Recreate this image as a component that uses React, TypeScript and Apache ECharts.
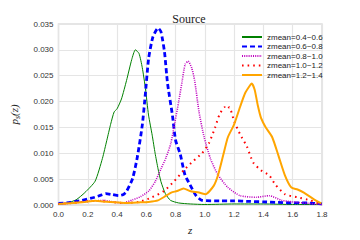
import React, { useEffect, useRef } from "react";
import * as echarts from "echarts";

const seriesNames = ["zmean=0.4~0.6", "zmean=0.6~0.8", "zmean=0.8~1.0", "zmean=1.0~1.2", "zmean=1.2~1.4"];

const greenZ = [0.0, 0.06, 0.12, 0.18, 0.25, 0.3, 0.33, 0.356, 0.38, 0.4, 0.43, 0.465, 0.5, 0.525, 0.55, 0.572, 0.594, 0.615, 0.64, 0.66, 0.68, 0.7, 0.73, 0.765, 0.82, 0.9, 1.0, 1.2, 1.4, 1.6, 1.8];
const greenV = [0.0002, 0.0004, 0.001, 0.0024, 0.0046, 0.009, 0.0125, 0.0156, 0.018, 0.0186, 0.0205, 0.0241, 0.0281, 0.03, 0.0293, 0.0266, 0.0225, 0.0174, 0.0135, 0.01, 0.007, 0.0045, 0.0022, 0.0009, 0.0004, 0.0002, 0.0001, 0.0002, 0.0002, 0.0001, 0.0001];

const blueZ = [0.0, 0.08, 0.16, 0.247, 0.29, 0.323, 0.37, 0.41, 0.44, 0.464, 0.507, 0.54, 0.573, 0.594, 0.616, 0.645, 0.68, 0.7, 0.724, 0.745, 0.778, 0.8, 0.832, 0.864, 0.897, 0.94, 0.98, 1.1, 1.2, 1.3, 1.4, 1.5, 1.6, 1.7, 1.8];
const blueV = [0.0003, 0.0005, 0.0009, 0.0015, 0.0019, 0.0022, 0.002, 0.0018, 0.002, 0.0026, 0.0052, 0.0095, 0.0156, 0.0217, 0.0284, 0.0325, 0.0342, 0.0335, 0.0296, 0.0235, 0.0174, 0.0125, 0.0098, 0.0058, 0.004, 0.0018, 0.0009, 0.0008, 0.0008, 0.0007, 0.0006, 0.0005, 0.0004, 0.0004, 0.0002];

const magentaZ = [0.0, 0.1, 0.2, 0.31, 0.37, 0.44, 0.507, 0.56, 0.616, 0.66, 0.7, 0.735, 0.767, 0.795, 0.82, 0.845, 0.865, 0.886, 0.91, 0.93, 0.96, 0.995, 1.04, 1.09, 1.157, 1.24, 1.35, 1.44, 1.525, 1.6, 1.675, 1.8];
const magentaV = [0.0002, 0.0004, 0.0007, 0.0009, 0.0006, 0.0004, 0.001, 0.0016, 0.0027, 0.0045, 0.007, 0.0092, 0.0119, 0.016, 0.0198, 0.024, 0.0272, 0.0278, 0.0265, 0.0241, 0.018, 0.0131, 0.0088, 0.0058, 0.0034, 0.0018, 0.0015, 0.0018, 0.0009, 0.0006, 0.0004, 0.0001];

const redZ = [0.0, 0.1, 0.25, 0.35, 0.44, 0.55, 0.64, 0.72, 0.79, 0.855, 0.92, 0.98, 1.027, 1.07, 1.1, 1.135, 1.15, 1.167, 1.2, 1.24, 1.287, 1.33, 1.384, 1.438, 1.48, 1.546, 1.63, 1.72, 1.8];
const redV = [0.0002, 0.0004, 0.0008, 0.0006, 0.0004, 0.0006, 0.0015, 0.0027, 0.0046, 0.0067, 0.0085, 0.01, 0.0119, 0.015, 0.0175, 0.0189, 0.0185, 0.0189, 0.0162, 0.0137, 0.0113, 0.0082, 0.0067, 0.0058, 0.004, 0.0021, 0.0015, 0.0009, 0.0001];

const orangeZ = [0.0, 0.1, 0.18, 0.25, 0.3, 0.356, 0.46, 0.55, 0.615, 0.68, 0.73, 0.77, 0.81, 0.854, 0.897, 0.96, 1.005, 1.06, 1.09, 1.124, 1.157, 1.2, 1.243, 1.276, 1.31, 1.32, 1.34, 1.362, 1.384, 1.416, 1.46, 1.503, 1.546, 1.59, 1.633, 1.676, 1.74, 1.795];
const orangeV = [0.0002, 0.0004, 0.0006, 0.0008, 0.0007, 0.0006, 0.0004, 0.0005, 0.0006, 0.0009, 0.0017, 0.0024, 0.0027, 0.0032, 0.0027, 0.0024, 0.0021, 0.0037, 0.0058, 0.0095, 0.0131, 0.0156, 0.0192, 0.0217, 0.0232, 0.0235, 0.0223, 0.0192, 0.0168, 0.015, 0.0131, 0.0095, 0.0058, 0.0034, 0.003, 0.0024, 0.0012, 0.0003];

const xTicks = [0.0, 0.2, 0.4, 0.6, 0.8, 1.0, 1.2, 1.4, 1.6, 1.8];
const yTicks = [0.0, 0.005, 0.01, 0.015, 0.02, 0.025, 0.03, 0.035];

const zip = (xs: number[], ys: number[]) => xs.map((x, i) => [x, ys[i]]);

export default function App() {
  const ref = useRef<HTMLDivElement>(null);
  useEffect(() => {
    if (!ref.current) return;
    const chart = echarts.init(ref.current, null, { renderer: "svg" });
    const sans = "Liberation Sans";
    const serif = "Liberation Serif";
    const styles = [
      { color: "#008000", width: 1, type: "solid" as any },
      { color: "#0000ff", width: 2.8, type: [5, 3] as any },
      { color: "#bf00bf", width: 1.6, type: [1, 1.2] as any },
      { color: "#ff0000", width: 2, type: [1.6, 4] as any },
      { color: "#ffa500", width: 2, type: "solid" as any },
    ];
    const datas = [
      zip(greenZ, greenV),
      zip(blueZ, blueV),
      zip(magentaZ, magentaV),
      zip(redZ, redV),
      zip(orangeZ, orangeV),
    ];
    chart.setOption({
      animation: false,
      backgroundColor: "#ffffff",
      title: {
        text: "Source",
        left: 184,
        textAlign: "center",
        top: 8,
        textStyle: { fontFamily: serif, fontSize: 12, fontWeight: "normal", color: "#222" },
      },
      grid: {
        left: 45,
        right: 38,
        top: 24,
        bottom: 25,
        show: true,
        borderColor: "#dddddd",
        borderWidth: 1.5,
      },
      legend: {
        orient: "vertical",
        left: 236,
        top: 28,
        itemWidth: 20,
        itemHeight: 10,
        itemGap: 1.5,
        data: seriesNames,
        itemStyle: { opacity: 0 },
        textStyle: { fontFamily: sans, fontSize: 8, color: "#222" },
      },
      xAxis: {
        type: "value",
        min: xTicks[0],
        max: xTicks[xTicks.length - 1],
        interval: 0.2,
        name: "z",
        nameLocation: "middle",
        nameGap: 19,
        nameTextStyle: { fontFamily: serif, fontStyle: "italic", fontSize: 11, color: "#222" },
        axisLine: { show: false },
        axisTick: { show: false },
        axisLabel: {
          margin: 5,
          fontFamily: sans,
          fontSize: 8,
          color: "#333",
          formatter: (v: number) => v.toFixed(1),
        },
        splitLine: { show: true, lineStyle: { color: "#e5e5e5", width: 1.2 } },
      },
      yAxis: {
        type: "value",
        min: yTicks[0],
        max: yTicks[yTicks.length - 1],
        interval: 0.005,
        name: "{i|p}{s|s}{i|(z)}",
        nameLocation: "middle",
        nameRotate: 90,
        nameGap: 37,
        nameTextStyle: {
          fontFamily: serif,
          fontStyle: "italic",
          fontSize: 11,
          color: "#222",
          rich: {
            i: { fontFamily: serif, fontStyle: "italic", fontSize: 11, color: "#222", lineHeight: 16, verticalAlign: "middle" },
            s: { fontFamily: serif, fontStyle: "italic", fontSize: 8, color: "#222", lineHeight: 16, verticalAlign: "bottom" },
          },
        },
        axisLine: { show: false },
        axisTick: { show: false },
        axisLabel: {
          margin: 5,
          fontFamily: sans,
          fontSize: 8,
          color: "#333",
          formatter: (v: number) => v.toFixed(3),
        },
        splitLine: { show: true, lineStyle: { color: "#e5e5e5", width: 1.2 } },
      },
      series: seriesNames.map((name, i) => ({
        name,
        type: "line",
        data: datas[i],
        showSymbol: false,
        symbol: "none",
        smooth: 0.2,
        lineStyle: styles[i],
        itemStyle: { color: styles[i].color },
        z: 2 + i,
      })),
    });
    return () => chart.dispose();
  }, []);
  return <div ref={ref} style={{ position: "absolute", left: 0, top: 0, width: 360, height: 240 }} />;
}
